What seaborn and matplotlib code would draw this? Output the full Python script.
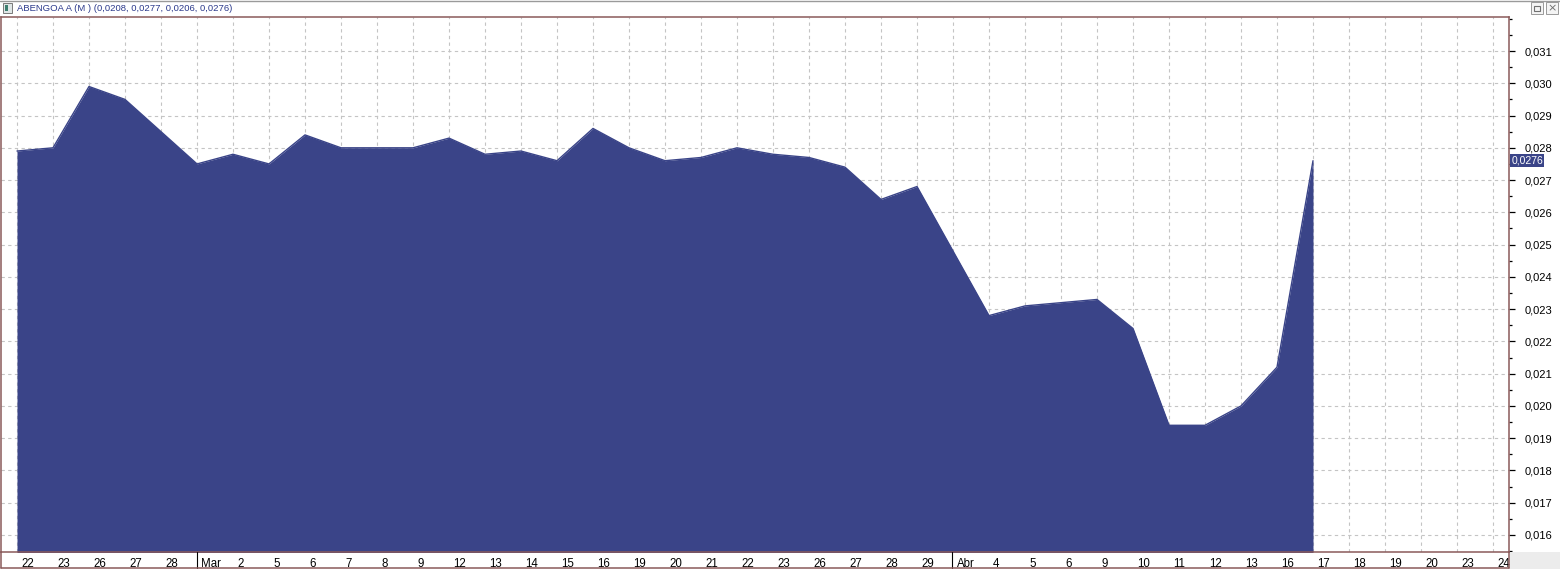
import numpy as np
import pandas as pd
import matplotlib
matplotlib.use("Agg")
import matplotlib.pyplot as plt
import seaborn as sns
from matplotlib.ticker import FuncFormatter, MultipleLocator, FixedLocator
from matplotlib.transforms import ScaledTranslation, blended_transform_factory
from matplotlib.patches import Rectangle
from matplotlib.lines import Line2D

# ---------------- data ----------------
date_labels = ["22", "23", "26", "27", "28", "Mar", "2", "5", "6", "7", "8", "9",
               "12", "13", "14", "15", "16", "19", "20", "21", "22", "23", "26",
               "27", "28", "29", "Abr", "4", "5", "6", "9", "10", "11", "12", "13",
               "16", "17", "18", "19", "20", "23", "24"]
month_marks = ["Mar", "Abr"]
prices = [0.0279, 0.0280, 0.0299, 0.0295, 0.0285, 0.0275, 0.0278, 0.0275, 0.0284,
          0.0280, 0.0280, 0.0280, 0.0283, 0.0278, 0.0279, 0.0276, 0.0286, 0.0280,
          0.0276, 0.0277, 0.0280, 0.0278, 0.0277, 0.0274, 0.0264, 0.0268, 0.0248,
          0.0228, 0.0231, 0.0232, 0.0233, 0.0224, 0.0194, 0.0194, 0.0200, 0.0212,
          0.0276]
y_ticks = [0.016, 0.017, 0.018, 0.019, 0.020, 0.021, 0.022, 0.023, 0.024,
           0.025, 0.026, 0.027, 0.028, 0.029, 0.030, 0.031]
title = "ABENGOA A (M ) (0,0208, 0,0277, 0,0206, 0,0276)"
last_label = "0,0276"

# ---------------- style ----------------
sns.set_style("white")
plt.rcParams['font.family'] = ['Liberation Sans', 'DejaVu Sans']

NAVY = "#3a4488"
FRAME = "#8a5a5a"
GRID = "#c4c4c4"

W, H = 1560, 569
fig = plt.figure(figsize=(W / 100, H / 100), dpi=100)
fig.patch.set_facecolor("white")


def fx(px):
    return px / W


def fy(py):
    return 1 - py / H


ax = fig.add_axes([fx(1), fy(552), fx(1509) - fx(1), fy(17) - fy(552)])
ax.set_facecolor("white")

df = pd.DataFrame({"i": np.arange(len(prices)), "price": prices})
ymin, ymax = 0.015473, 0.032054

ax.fill_between(df["i"], df["price"], ymin - 0.001, color=NAVY, lw=0, zorder=2)
sns.lineplot(data=df, x="i", y="price", color=NAVY, lw=1.0, ax=ax, zorder=3)

ax.set_xlim(-16 / 36, (1509 - 17) / 36)
ax.set_ylim(ymin, ymax)
ax.set_xlabel("")
ax.set_ylabel("")

# x ticks
ax.xaxis.set_major_locator(FixedLocator(list(range(len(date_labels)))))
ax.set_xticklabels(date_labels)
ax.tick_params(axis="x", direction="out", length=3, width=0.8, color="black",
               labelsize=8.3, pad=1.5, labelcolor="black")
off = ScaledTranslation(4 / 100, 0, fig.dpi_scale_trans)
for lbl in ax.get_xticklabels():
    lbl.set_horizontalalignment("left")
    lbl.set_transform(lbl.get_transform() + off)

# y ticks on right
ax.yaxis.tick_right()
ax.yaxis.set_major_locator(FixedLocator(y_ticks))
ax.yaxis.set_minor_locator(MultipleLocator(0.0005))
ax.yaxis.set_major_formatter(FuncFormatter(lambda v, p: f"{v:.3f}".replace(".", ",")))
ax.tick_params(axis="y", which="major", direction="out", length=4.5, width=0.9,
               color="black", labelsize=8, pad=7, labelcolor="black")
ax.tick_params(axis="y", which="minor", direction="out", length=2.2, width=0.9,
               color="black")

ax.grid(True, which="major", axis="both", color=GRID, linestyle=(0, (3, 3)),
        linewidth=0.8)
ax.set_axisbelow(True)

for s in ax.spines.values():
    s.set_color(FRAME)
    s.set_linewidth(1.1)

# month separator ticks (longer)
for i, lab in enumerate(date_labels):
    if lab in month_marks:
        xpix = 17 + i * 35.97
        fig.add_artist(Line2D([fx(xpix), fx(xpix)], [fy(552), fy(568)],
                              color="black", lw=0.8))

# label strip border
fig.add_artist(Line2D([fx(1), fx(1509)], [fy(568), fy(568)], color=FRAME, lw=1.1))
fig.add_artist(Line2D([fx(1), fx(1)], [fy(552), fy(568)], color=FRAME, lw=1.1))
fig.add_artist(Line2D([fx(1509), fx(1509)], [fy(552), fy(568)], color=FRAME, lw=1.1))
# bottom-right gray corner
fig.add_artist(Rectangle((fx(1510), 0), fx(50), fy(552), transform=fig.transFigure,
                         facecolor="#ececec", edgecolor="none"))

# title bar
fig.add_artist(Line2D([0, 1], [fy(0.5), fy(0.5)], color="#9a9a9a", lw=1))
fig.add_artist(Rectangle((fx(3), fy(13)), fx(9), fy(3) - fy(13), transform=fig.transFigure,
                         facecolor="#dfe6e6", edgecolor="#7a7a7a", lw=0.7))
fig.add_artist(Rectangle((fx(5), fy(11)), fx(3), fy(5) - fy(11), transform=fig.transFigure,
                         facecolor="#3d7f70", edgecolor="none"))
fig.text(fx(17), fy(8.5), title, ha="left", va="center", fontsize=6.8, color="#2c3a8c")

# window buttons
for bx in (1531, 1546):
    fig.add_artist(Rectangle((fx(bx), fy(14)), fx(12), fy(2) - fy(14), transform=fig.transFigure,
                             facecolor="#f4f4f4", edgecolor="#9a9a9a", lw=0.7))
fig.add_artist(Rectangle((fx(1534), fy(11)), fx(6), fy(6) - fy(11), transform=fig.transFigure,
                         facecolor="none", edgecolor="#707070", lw=0.8))
fig.text(fx(1552), fy(8), "×", ha="center", va="center", fontsize=8, color="#707070",
         family=["DejaVu Sans"])

# last price tag
tr = blended_transform_factory(ax.transAxes, ax.transData)
ax.text(1.0015, prices[-1], last_label, transform=tr, ha="left", va="center",
        color="white", fontsize=7.5, clip_on=False, zorder=5,
        bbox=dict(boxstyle="square,pad=0.12", fc=NAVY, ec="none"))

fig.savefig("out.png", dpi=100, facecolor="white")
